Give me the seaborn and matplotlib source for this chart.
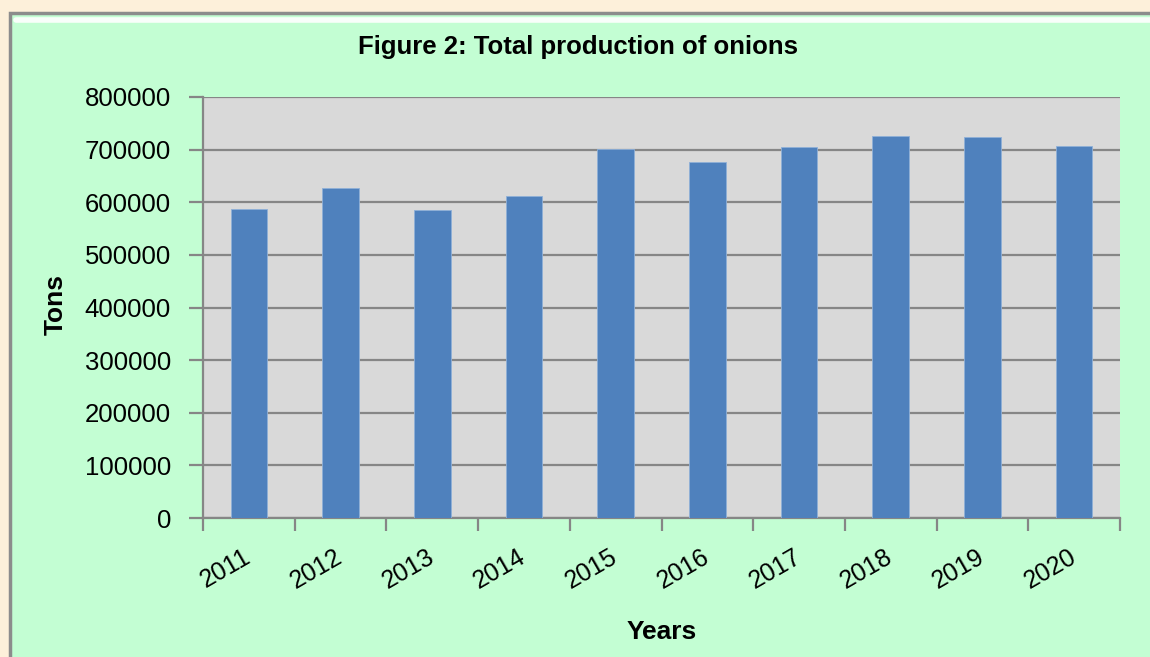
# Figure 2: total production of onions, bar chart
import pandas as pd
import matplotlib.pyplot as plt
import seaborn as sns
from matplotlib.patches import Rectangle
from matplotlib.lines import Line2D

# data
years = ["2011", "2012", "2013", "2014", "2015", "2016", "2017", "2018", "2019", "2020"]
tons = [588000, 628000, 585000, 612000, 700500, 677000, 705000, 726500, 723500, 707000]
y_ticks = [0, 100000, 200000, 300000, 400000, 500000, 600000, 700000, 800000]

df = pd.DataFrame({"Year": years, "Tons": tons})

sns.set_style("white")
plt.rcParams["font.family"] = ["Liberation Sans", "DejaVu Sans"]
plt.rcParams["text.color"] = "black"
plt.rcParams["axes.labelcolor"] = "black"
plt.rcParams["xtick.color"] = "black"
plt.rcParams["ytick.color"] = "black"

fig = plt.figure(figsize=(11.5, 6.57), dpi=100)
fig.patch.set_facecolor("#fdf0da")

# green panel with a grey edge and a light bevel at the top
fig.patches.append(Rectangle((10 / 1150, -0.05), 1.2, 1 - 13 / 657 + 0.05,
                             transform=fig.transFigure, facecolor="#c3fed3",
                             edgecolor="#8c8c8c", linewidth=2.5, zorder=-2))
fig.lines.append(Line2D([16 / 1150, 1.0], [1 - 20 / 657, 1 - 20 / 657],
                        transform=fig.transFigure, color="white", linewidth=4,
                        alpha=0.9, zorder=-1))

ax = fig.add_axes([203 / 1150, 1 - 518 / 657, 917 / 1150, 421 / 657])
ax.set_facecolor("#d9d9d9")

sns.barplot(data=df, x="Year", y="Tons", color="#4f81bd", saturation=1,
            width=0.4, edgecolor="#8fb0d8", linewidth=0.6, ax=ax, zorder=3)

ax.set_xlim(-0.5, len(years) - 0.5)
ax.set_ylim(0, 800000)
ax.set_yticks(y_ticks)
ax.set_yticklabels([str(v) for v in y_ticks])
ax.yaxis.grid(True, color="#868686", linewidth=1.6, zorder=1)
ax.set_axisbelow(True)

# category boundary ticks, Excel style
ax.set_xticks([i - 0.5 for i in range(len(years) + 1)], minor=True)
ax.tick_params(axis="x", which="minor", bottom=True, length=9, width=1.6,
               color="#868686", direction="out")
ax.tick_params(axis="x", which="major", bottom=True, length=0, pad=27, labelsize=18)
ax.tick_params(axis="y", left=True, length=10, width=1.6, color="#868686",
               direction="out", pad=13, labelsize=18.5)
for lab in ax.get_xticklabels():
    lab.set_rotation(30)
    lab.set_ha("right")
    lab.set_va("center")
    lab.set_rotation_mode("anchor")

for side in ["top", "right"]:
    ax.spines[side].set_visible(False)
for side in ["left", "bottom"]:
    ax.spines[side].set_color("#868686")
    ax.spines[side].set_linewidth(1.6)

ax.set_xlabel("Years", fontsize=19, fontweight="bold", va="center")
ax.set_ylabel("Tons", fontsize=19, fontweight="bold", va="center")
ax.xaxis.set_label_coords(0.5005, -0.271)
ax.yaxis.set_label_coords(-0.161, 0.506)
fig.text(578 / 1150, 1 - 47 / 657, "Figure 2: Total production of onions",
         ha="center", va="center", fontsize=18.5, fontweight="bold")

fig.savefig("out.png", dpi=100, facecolor=fig.get_facecolor())
